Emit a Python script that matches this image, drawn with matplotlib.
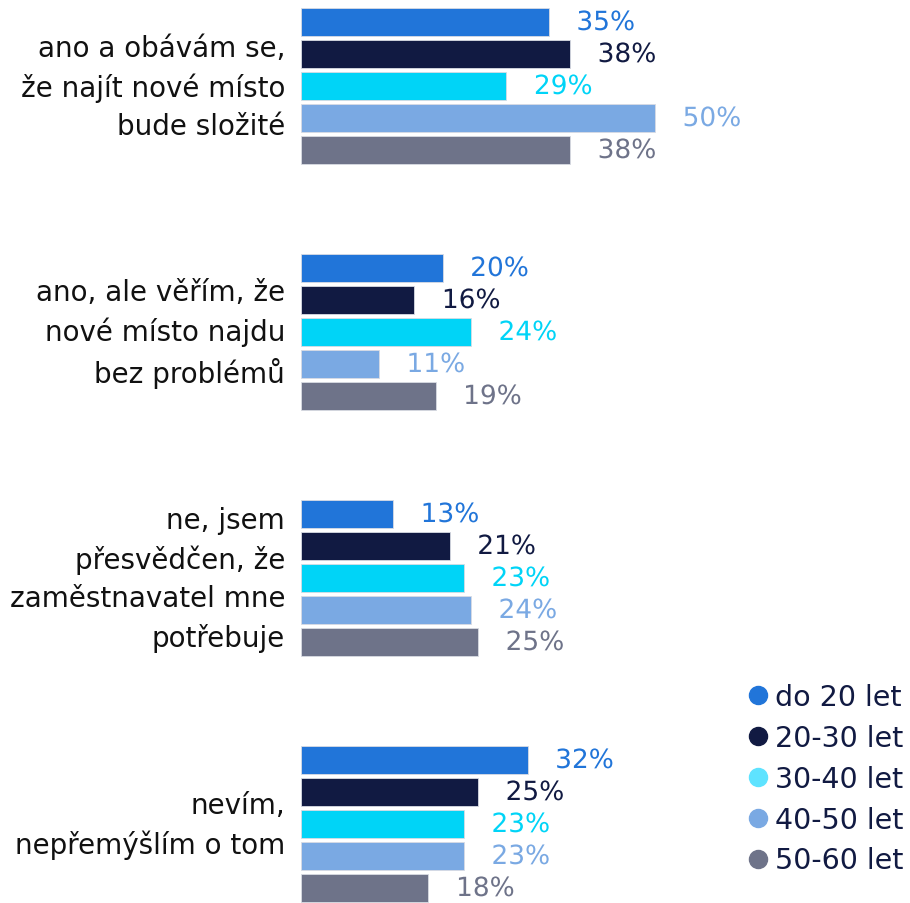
import numpy as np
import matplotlib
matplotlib.use("Agg")
import matplotlib.pyplot as plt
import matplotlib.patheffects as pe
from matplotlib.lines import Line2D

# categories (top to bottom)
categories = [
    "ano a obávám se,\nže najít nové místo\nbude složité",
    "ano, ale věřím, že\nnové místo najdu\nbez problémů",
    "ne, jsem\npřesvědčen, že\nzaměstnavatel mne\npotřebuje",
    "nevím,\nnepřemýšlím o tom",
]
age_groups = ["do 20 let", "20-30 let", "30-40 let", "40-50 let", "50-60 let"]

# percent per age group, one value per category
do20 = [35, 20, 13, 32]
g20_30 = [38, 16, 21, 25]
g30_40 = [29, 24, 23, 23]
g40_50 = [50, 11, 24, 23]
g50_60 = [38, 19, 25, 18]
series = [do20, g20_30, g30_40, g40_50, g50_60]

bar_colors = ["#2175d9", "#111a42", "#00d4f7", "#7aa9e3", "#6e7389"]
legend_colors = ["#2175d9", "#111a42", "#5ee3ff", "#7aa9e3", "#6e7389"]

plt.rcParams['font.family'] = ['DejaVu Sans']

fig = plt.figure(figsize=(9.1, 9.04), dpi=100)
ax = fig.add_axes([301 / 910, 0, 609 / 910, 1])
ax.set_xlim(0, 609 / 7.08)
ax.set_ylim(904, 0)
ax.axis("off")

group_pitch = 246
first_center = 87
bar_pitch = 32
bar_h = 28

outline = [pe.withStroke(linewidth=4, foreground="white")]
for gi, cat in enumerate(categories):
    center = first_center + gi * group_pitch
    for si, vals in enumerate(series):
        y = center + (si - 2) * bar_pitch
        ax.barh(y, vals[gi], height=bar_h, color=bar_colors[si],
                edgecolor="#d8dbe3", linewidth=0.6)
        ax.text(vals[gi] + 3.9, y + 1, f"{vals[gi]}%", ha="left", va="center",
                fontsize=19, color=bar_colors[si], path_effects=outline)
    fig.text(285 / 910, 1 - (center + 1) / 904, cat, ha="right", va="center",
             fontsize=20, color="#111111", linespacing=1.45)

handles = [Line2D([0], [0], marker="o", linestyle="none", markersize=13,
                  markerfacecolor=c, markeredgecolor=c) for c in legend_colors]
fig.legend(handles, age_groups, loc="upper right", bbox_to_anchor=(1.0 + 8 / 910, 1 - 670 / 904),
           frameon=False, fontsize=20.5, labelcolor="#111a42", handletextpad=0.15,
           labelspacing=0.45, handlelength=0.9, borderaxespad=0.1)

fig.savefig("out.png", dpi=100)
